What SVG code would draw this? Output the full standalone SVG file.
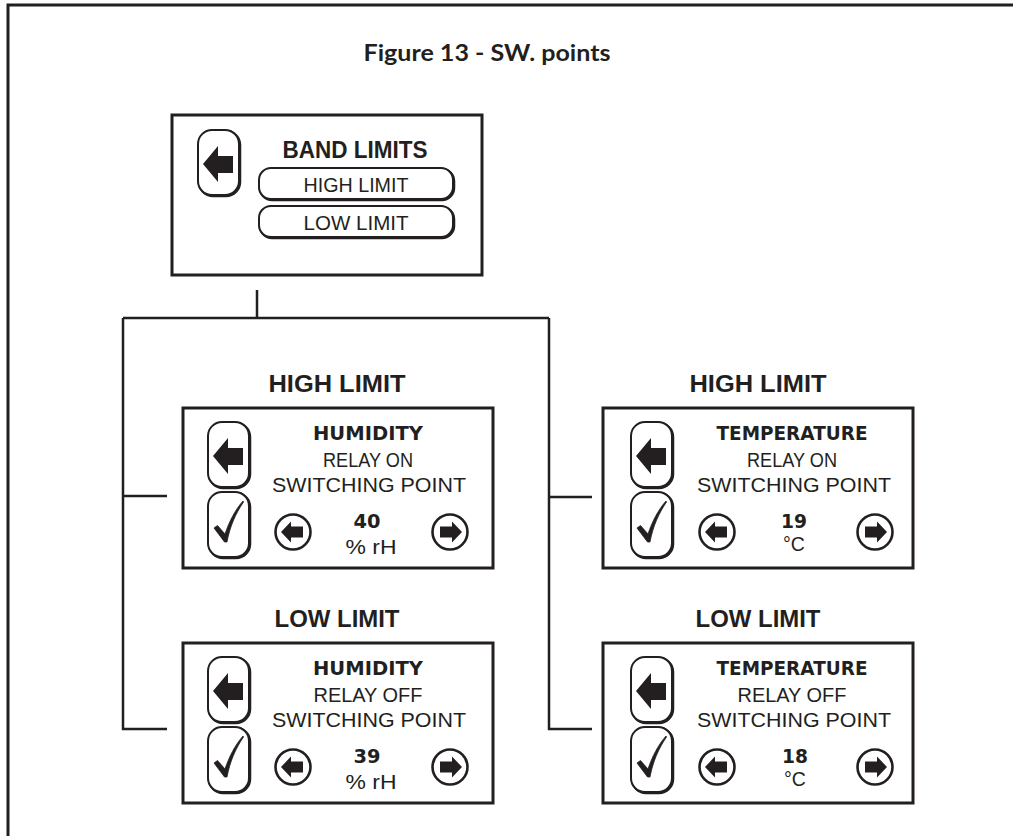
<svg xmlns="http://www.w3.org/2000/svg" width="1013" height="836" viewBox="0 0 1013 836">
<style>
text{font-family:"Liberation Sans",Arial,sans-serif;fill:#231f20;text-anchor:middle}
.t{font-family:Lato,"Liberation Sans",sans-serif;font-weight:bold;font-size:23px}
.h{font-weight:bold;font-size:24px}
.b{font-family:"DejaVu Sans","Liberation Sans",sans-serif;font-weight:bold;font-size:20px}
.r{font-size:19.5px}
.frame{fill:none;stroke:#231f20;stroke-width:3}
.box{fill:#fff;stroke:#231f20;stroke-width:3}
.btn{fill:#fff;stroke:#231f20;stroke-width:2}
.sh{fill:none;stroke:#231f20;stroke-width:2.5}
.conn{fill:none;stroke:#231f20;stroke-width:2.5}
.ar{fill:#231f20}
.ck{fill:#231f20;stroke:#231f20;stroke-width:0.8;stroke-linejoin:round}
.ci{fill:#fff;stroke:#231f20;stroke-width:2.6}
</style>
<defs>
<g id="backbtn">
<rect x="1" y="1" width="41" height="65" rx="14" class="sh"/>
<rect x="0" y="0" width="41" height="65" rx="14" class="btn"/>
<path class="ar" d="M5 34 L20 16 L20 26 L35 26 L35 43 L20 43 L20 52 Z"/>
</g>
<g id="checkbtn">
<rect x="1" y="1" width="41" height="65" rx="14" class="sh"/>
<rect x="0" y="0" width="41" height="65" rx="14" class="btn"/>
<path class="ck" d="M6 36 L9.5 33.5 L17 42 C21 30 27 18 35 9 L35.5 10 C28 21 22 34 19 50 L16.5 50 Z"/>
</g>
<g id="circL">
<circle cx="0" cy="0" r="17.5" class="ci"/>
<path class="ar" d="M-12 0 L-2 -10.5 L-2 -5.5 L10 -5.5 L10 5.5 L-2 5.5 L-2 10.5 Z"/>
</g>
<g id="circR">
<circle cx="0" cy="0" r="17.5" class="ci"/>
<path class="ar" d="M12 0 L2 -10.5 L2 -5.5 L-10 -5.5 L-10 5.5 L2 5.5 L2 10.5 Z"/>
</g>
</defs>
<rect width="1013" height="836" fill="#fff"/>
<path class="frame" d="M8 836 V5 H1013"/>
<text class="t" x="487" y="61" textLength="247" lengthAdjust="spacingAndGlyphs">Figure 13 - SW. points</text>

<g id="connectors">
<path class="conn" d="M257 290 V318"/>
<path class="conn" d="M123 318 H549"/>
<path class="conn" d="M123 318 V729 H167"/>
<path class="conn" d="M123 496 H167"/>
<path class="conn" d="M549 318 V729 H592"/>
<path class="conn" d="M549 497 H592"/>
</g>

<g id="band-limits">
<rect x="172" y="115" width="310" height="160" class="box"/>
<use href="#backbtn" transform="translate(198,130)"/>
<text class="h" x="355" y="158" textLength="145" lengthAdjust="spacingAndGlyphs" style="font-size:23px">BAND LIMITS</text>
<rect x="260" y="169" width="194" height="31" rx="12" class="sh"/>
<rect x="259" y="168" width="194" height="31" rx="12" class="btn"/>
<text class="r" x="356" y="192" textLength="105" lengthAdjust="spacingAndGlyphs">HIGH LIMIT</text>
<rect x="260" y="207" width="194" height="31" rx="12" class="sh"/>
<rect x="259" y="206" width="194" height="31" rx="12" class="btn"/>
<text class="r" x="356" y="230" textLength="105" lengthAdjust="spacingAndGlyphs">LOW LIMIT</text>
</g>

<g id="hum-high">
<text class="h" x="337" y="392" textLength="137" lengthAdjust="spacingAndGlyphs">HIGH LIMIT</text>
<rect x="183" y="408" width="310" height="160" class="box"/>
<g transform="translate(183,408)">
<use href="#backbtn" transform="translate(25,14)"/>
<use href="#checkbtn" transform="translate(25,84)"/>
<text class="b" x="185" y="32" textLength="110" lengthAdjust="spacingAndGlyphs">HUMIDITY</text>
<text class="r" x="185" y="59" textLength="90" lengthAdjust="spacingAndGlyphs">RELAY ON</text>
<text class="r" x="186" y="84" textLength="194" lengthAdjust="spacingAndGlyphs">SWITCHING POINT</text>
<text class="b" x="184" y="120" textLength="27" lengthAdjust="spacingAndGlyphs">40</text>
<text class="r" x="188" y="146" textLength="51" lengthAdjust="spacingAndGlyphs">% rH</text>
<use href="#circL" transform="translate(110,124)"/>
<use href="#circR" transform="translate(267,124)"/>
</g>
</g>

<g id="hum-low">
<text class="h" x="337" y="627" textLength="125" lengthAdjust="spacingAndGlyphs">LOW LIMIT</text>
<rect x="183" y="643" width="310" height="160" class="box"/>
<g transform="translate(183,643)">
<use href="#backbtn" transform="translate(25,14)"/>
<use href="#checkbtn" transform="translate(25,84)"/>
<text class="b" x="185" y="32" textLength="110" lengthAdjust="spacingAndGlyphs">HUMIDITY</text>
<text class="r" x="185" y="59" textLength="109" lengthAdjust="spacingAndGlyphs">RELAY OFF</text>
<text class="r" x="186" y="84" textLength="194" lengthAdjust="spacingAndGlyphs">SWITCHING POINT</text>
<text class="b" x="184" y="120" textLength="27" lengthAdjust="spacingAndGlyphs">39</text>
<text class="r" x="188" y="146" textLength="51" lengthAdjust="spacingAndGlyphs">% rH</text>
<use href="#circL" transform="translate(110,124)"/>
<use href="#circR" transform="translate(267,124)"/>
</g>
</g>

<g id="temp-high">
<text class="h" x="758" y="392" textLength="137" lengthAdjust="spacingAndGlyphs">HIGH LIMIT</text>
<rect x="603" y="408" width="310" height="160" class="box"/>
<g transform="translate(606,408)">
<use href="#backbtn" transform="translate(25,14)"/>
<use href="#checkbtn" transform="translate(25,84)"/>
<text class="b" x="186" y="32" textLength="151" lengthAdjust="spacingAndGlyphs">TEMPERATURE</text>
<text class="r" x="186" y="59" textLength="90" lengthAdjust="spacingAndGlyphs">RELAY ON</text>
<text class="r" x="188" y="84" textLength="194" lengthAdjust="spacingAndGlyphs">SWITCHING POINT</text>
<text class="b" x="188" y="120" textLength="26" lengthAdjust="spacingAndGlyphs">19</text>
<text class="r" x="188" y="143">°C</text>
<use href="#circL" transform="translate(111,124)"/>
<use href="#circR" transform="translate(269,124)"/>
</g>
</g>

<g id="temp-low">
<text class="h" x="758" y="627" textLength="125" lengthAdjust="spacingAndGlyphs">LOW LIMIT</text>
<rect x="603" y="643" width="310" height="160" class="box"/>
<g transform="translate(606,643)">
<use href="#backbtn" transform="translate(25,14)"/>
<use href="#checkbtn" transform="translate(25,84)"/>
<text class="b" x="186" y="32" textLength="151" lengthAdjust="spacingAndGlyphs">TEMPERATURE</text>
<text class="r" x="186" y="59" textLength="109" lengthAdjust="spacingAndGlyphs">RELAY OFF</text>
<text class="r" x="188" y="84" textLength="194" lengthAdjust="spacingAndGlyphs">SWITCHING POINT</text>
<text class="b" x="189" y="120" textLength="26" lengthAdjust="spacingAndGlyphs">18</text>
<text class="r" x="189" y="143">°C</text>
<use href="#circL" transform="translate(111,124)"/>
<use href="#circR" transform="translate(269,124)"/>
</g>
</g>
</svg>
